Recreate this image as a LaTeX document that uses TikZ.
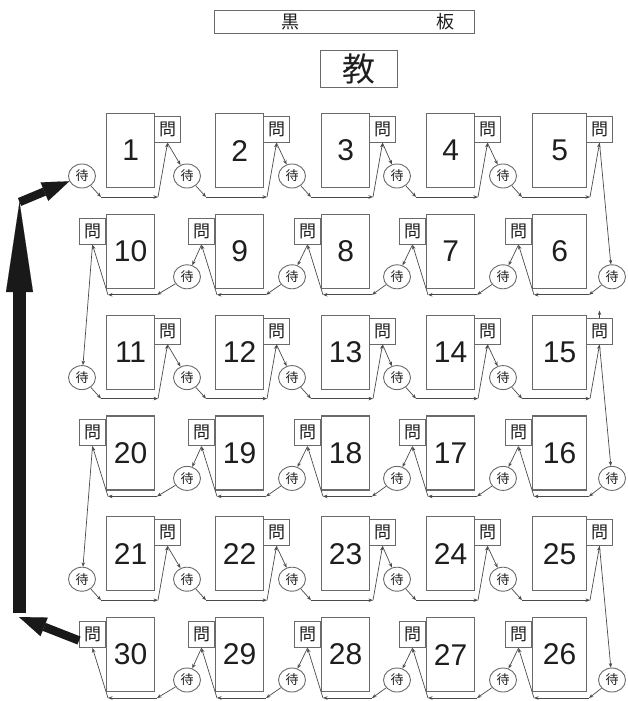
\documentclass[tikz,border=0pt]{standalone}
\usepackage{fontspec}
\setmainfont{Liberation Sans}
\newfontfamily\cjk{Noto Sans CJK JP}
\usetikzlibrary{shapes.geometric,arrows.meta}
\definecolor{boxgray}{HTML}{6A6A6A}
\definecolor{linegray}{HTML}{4A4A4A}
\definecolor{ink}{HTML}{1E1E1E}
\begin{document}
\begin{tikzpicture}[x=1pt,y=-1pt,
  desk/.style={draw=boxgray,line width=1.2pt,minimum height=74pt,inner sep=0pt,text=ink,font=\fontsize{30}{30}\selectfont},
  ask/.style={draw=boxgray,line width=1pt,minimum width=26pt,minimum height=26pt,inner sep=0pt,text=ink,font=\cjk\fontsize{17}{17}\selectfont},
  wait/.style={draw=boxgray,line width=0.9pt,ellipse,minimum width=27pt,minimum height=24pt,inner sep=0pt,text=ink,font=\cjk\fontsize{13}{13}\selectfont},
  conn/.style={draw=linegray,line width=0.7pt,-{Stealth[length=4.5pt,width=3.5pt]}},
  bigarr/.style={draw=black!90,fill=black!90},
  plain/.style={draw=boxgray,line width=1pt,inner sep=0pt,text=ink}
]
\useasboundingbox (0,0) rectangle (627,701);

% blackboard and teacher
\node[plain,minimum width=260pt,minimum height=23pt,anchor=north west] (board) at (214,10) {};
\node[text=ink,font=\cjk\fontsize{18}{18}\selectfont] (kuro) at (290,22) {黒};
\node[text=ink,font=\cjk\fontsize{18}{18}\selectfont] (ban) at (445,22) {板};
\node[plain,minimum width=77pt,minimum height=37pt,anchor=north west,font=\cjk\fontsize{33}{33}\selectfont] (teacher) at (320,50) {教};

% desks, question boxes, waiting circles
\foreach \r in {0,...,5}{
  \pgfmathsetmacro\rowtop{113+100.8*\r}
  \foreach \k in {0,...,4}{
    \pgfmathtruncatemacro\n{5*\r+\k+1}
    \ifodd\r
      \pgfmathtruncatemacro\c{4-\k}
      \pgfmathtruncatemacro\wi{\c+1}
    \else
      \pgfmathtruncatemacro\c{\k}
      \pgfmathtruncatemacro\wi{\c}
    \fi
    \pgfmathtruncatemacro\dl{{106,215,321,426,532}[\c]}
    \pgfmathtruncatemacro\dw{\c==4 ? 54 : 48}
    \pgfmathtruncatemacro\dr{\dl+\dw}
    \pgfmathtruncatemacro\wx{{82,187,292,397,503,612}[\wi]}
    \node[desk,minimum width=\dw pt,anchor=north west] (d\n) at (\dl,\rowtop) {\n};
    \node[wait] (w\n) at (\wx,\rowtop+63) {待};
    \ifodd\r
      \node[ask,anchor=north east] (q\n) at (\dl,\rowtop+4) {問};
      \coordinate (a\n) at (\dr+3,\rowtop+81);
      \coordinate (b\n) at (\dl+2,\rowtop+81);
    \else
      \node[ask,anchor=north west] (q\n) at (\dr,\rowtop+3) {問};
      \coordinate (a\n) at (\wx+19,\rowtop+84);
      \coordinate (b\n) at (\dr+4,\rowtop+84);
    \fi
  }
}

% connectors
\foreach \n in {1,...,30}{
  \draw[conn] (w\n) -- (a\n);
  \draw[conn] (a\n) -- (b\n);
  \draw[conn] (b\n) -- (q\n.south);
  \ifnum\n<30
    \pgfmathtruncatemacro\m{\n+1}
    \draw[conn] (q\n.south) -- (w\m);
  \fi
}
\coordinate (stub15) at ([yshift=7pt]q15.north);
\draw[conn] (q15.north) -- (stub15);

% big arrows
\coordinate (bigtail) at (19.5,613);
\coordinate (bigtip) at (19.5,202);
\coordinate (bottip) at (19,617);
\coordinate (c30) at ([yshift=-6pt]q30.west);
\draw[bigarr,line width=13pt,-{Triangle[length=90pt,width=27pt,line width=0.1pt]}] (bigtail) -- (bigtip);
\draw[bigarr,line width=8.5pt,-{Triangle[length=27pt,width=20pt,line width=0.1pt]}] (bigtip) -- (w1);
\draw[bigarr,line width=8.5pt,-{Triangle[length=27pt,width=20pt,line width=0.1pt]}] (c30) -- (bottip);
\end{tikzpicture}
\end{document}
